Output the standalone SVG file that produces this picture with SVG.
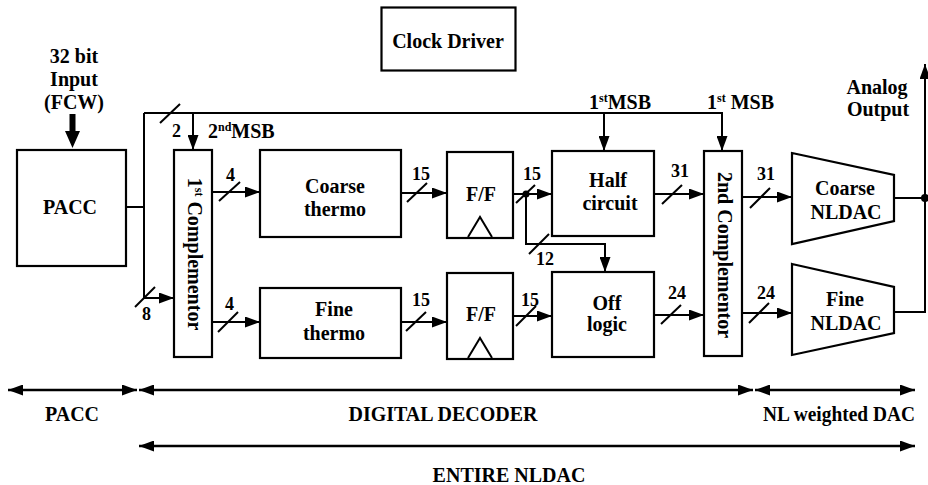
<svg xmlns="http://www.w3.org/2000/svg" width="928" height="485" viewBox="0 0 928 485">
  <style>
    .box { fill: #fff; stroke: #000; stroke-width: 2.2; }
    .ln { fill: none; stroke: #000; stroke-width: 2; }
    .bar { fill: none; stroke: #000; stroke-width: 2.6; }
    .t { font-family: "Liberation Serif", "Times New Roman", serif; font-weight: bold; font-size: 20px; text-anchor: middle; fill: #000; }
    .n { font-family: "Liberation Serif", "Times New Roman", serif; font-weight: bold; font-size: 18px; fill: #000; }
    .sl { stroke: #000; stroke-width: 2; }
  </style>
  <defs>
    <marker id="ah" viewBox="0 0 15 11" refX="15" refY="5.5" markerWidth="15" markerHeight="11" markerUnits="userSpaceOnUse" orient="auto-start-reverse">
      <path d="M0,0 L15,5.5 L0,11 z" fill="#000"/>
    </marker>
  </defs>
  <rect width="928" height="485" fill="#fff"/>

  <!-- input word -->
  <g id="input">
    <text class="t" x="74" y="63">32 bit</text>
    <text class="t" x="74" y="86">Input</text>
    <text class="t" x="74" y="109">(FCW)</text>
    <polygon points="69.5,114 75.5,114 75.5,131 80,131 72.5,148 65,131 69.5,131" fill="#000"/>
  </g>

  <g id="clock-driver">
    <rect class="box" x="381.5" y="7.5" width="134" height="63"/>
    <text class="t" x="448" y="48">Clock Driver</text>
  </g>

  <g id="pacc">
    <rect class="box" x="17" y="150" width="109" height="116"/>
    <text class="t" x="70" y="214">PACC</text>
  </g>

  <g id="complementor-1">
    <rect class="box" x="174" y="150" width="38" height="207"/>
    <text class="t" transform="translate(194,254) rotate(90)" y="6">1<tspan font-size="12" dy="-7">st</tspan><tspan dy="7"> Complementor</tspan></text>
  </g>

  <g id="coarse-thermo">
    <rect class="box" x="260" y="150" width="141" height="87"/>
    <text class="t" x="335" y="193">Coarse</text>
    <text class="t" x="335" y="216">thermo</text>
  </g>

  <g id="fine-thermo">
    <rect class="box" x="260" y="288" width="141" height="70"/>
    <text class="t" x="334" y="316">Fine</text>
    <text class="t" x="334" y="340">thermo</text>
  </g>

  <g id="ff-coarse">
    <rect class="box" x="447" y="152" width="66" height="86"/>
    <text class="t" x="481" y="201">F/F</text>
    <polyline class="ln" points="468,237 480,217 492,237"/>
  </g>

  <g id="ff-fine">
    <rect class="box" x="447" y="273" width="66" height="86"/>
    <text class="t" x="481" y="321">F/F</text>
    <polyline class="ln" points="468,358 480,338 492,358"/>
  </g>

  <g id="half-circuit">
    <rect class="box" x="552" y="151" width="102" height="85"/>
    <text class="t" x="608" y="187">Half</text>
    <text class="t" x="610" y="210">circuit</text>
  </g>

  <g id="off-logic">
    <rect class="box" x="552" y="272" width="102" height="85"/>
    <text class="t" x="607" y="310">Off</text>
    <text class="t" x="607" y="331">logic</text>
  </g>

  <g id="complementor-2">
    <rect class="box" x="704" y="151" width="38" height="205"/>
    <text class="t" transform="translate(724,255) rotate(90)" y="6">2nd Complementor</text>
  </g>

  <g id="coarse-nldac">
    <polygon class="box" points="792,153 894,175 894,221 792,244"/>
    <text class="t" x="845" y="195">Coarse</text>
    <text class="t" x="846" y="219">NLDAC</text>
  </g>

  <g id="fine-nldac">
    <polygon class="box" points="792,264 894,287 894,333 792,355"/>
    <text class="t" x="845" y="306">Fine</text>
    <text class="t" x="846" y="330">NLDAC</text>
  </g>

  <g id="analog-output">
    <text class="t" x="877" y="94">Analog</text>
    <text class="t" x="878" y="116">Output</text>
  </g>

  <g id="connectors">
    <path class="ln" d="M126,207 H144"/>
    <path class="ln" d="M144,113 V298 H174" marker-end="url(#ah)"/>
    <path class="ln" d="M144,113 H722 V151" marker-end="url(#ah)"/>
    <path class="ln" d="M193,113 V150" marker-end="url(#ah)"/>
    <path class="ln" d="M604,113 V151" marker-end="url(#ah)"/>
    <path class="ln" d="M212,192 H260" marker-end="url(#ah)"/>
    <path class="ln" d="M212,322 H260" marker-end="url(#ah)"/>
    <path class="ln" d="M401,193 H447" marker-end="url(#ah)"/>
    <path class="ln" d="M401,322 H447" marker-end="url(#ah)"/>
    <path class="ln" d="M513,194 H552" marker-end="url(#ah)"/>
    <path class="ln" d="M526,194 V244 H605 V272" marker-end="url(#ah)"/>
    <path class="ln" d="M513,316 H552" marker-end="url(#ah)"/>
    <path class="ln" d="M654,194 H704" marker-end="url(#ah)"/>
    <path class="ln" d="M654,315 H704" marker-end="url(#ah)"/>
    <path class="ln" d="M742,197 H792" marker-end="url(#ah)"/>
    <path class="ln" d="M742,313 H792" marker-end="url(#ah)"/>
    <path class="ln" d="M894,198 H925"/>
    <path class="ln" d="M894,312 H925 V64" marker-end="url(#ah)"/>
    <circle cx="526" cy="194" r="3.5" fill="#000"/>
    <circle cx="925" cy="198" r="4" fill="#000"/>

    <!-- bus width ticks -->
    <line class="sl" x1="160" y1="123" x2="180" y2="104"/>
    <line class="sl" x1="135" y1="307" x2="155" y2="287"/>
    <line class="sl" x1="219" y1="201" x2="240" y2="182"/>
    <line class="sl" x1="218" y1="332" x2="238" y2="312"/>
    <line class="sl" x1="407" y1="202" x2="427" y2="183"/>
    <line class="sl" x1="406" y1="331" x2="426" y2="312"/>
    <line class="sl" x1="516" y1="203" x2="535" y2="185"/>
    <line class="sl" x1="529" y1="254" x2="549" y2="234"/>
    <line class="sl" x1="516" y1="326" x2="536" y2="306"/>
    <line class="sl" x1="662" y1="204" x2="682" y2="185"/>
    <line class="sl" x1="661" y1="324" x2="681" y2="305"/>
    <line class="sl" x1="750" y1="208" x2="770" y2="188"/>
    <line class="sl" x1="749" y1="323" x2="769" y2="303"/>

    <!-- bus widths and control labels -->
    <text class="n" x="172" y="137">2</text>
    <text class="n" x="142" y="320">8</text>
    <text class="n" x="226" y="181">4</text>
    <text class="n" x="225" y="310">4</text>
    <text class="n" x="412" y="180">15</text>
    <text class="n" x="412" y="306">15</text>
    <text class="n" x="523" y="180">15</text>
    <text class="n" x="536" y="265">12</text>
    <text class="n" x="521" y="306">15</text>
    <text class="n" x="671" y="177">31</text>
    <text class="n" x="668" y="299">24</text>
    <text class="n" x="757" y="180">31</text>
    <text class="n" x="757" y="299">24</text>
    <text class="t" x="208" y="138" style="text-anchor:start">2<tspan font-size="12" dy="-7">nd</tspan><tspan dy="7">MSB</tspan></text>
    <text class="t" x="589" y="109" style="text-anchor:start">1<tspan font-size="12" dy="-7">st</tspan><tspan dy="7">MSB</tspan></text>
    <text class="t" x="707" y="109" style="text-anchor:start">1<tspan font-size="12" dy="-7">st</tspan><tspan dy="7"> MSB</tspan></text>
  </g>

  <!-- extent ranges -->
  <g id="ranges">
    <path class="bar" d="M8,390 H137" marker-start="url(#ah)" marker-end="url(#ah)"/>
    <path class="bar" d="M139,390 H753" marker-start="url(#ah)" marker-end="url(#ah)"/>
    <path class="bar" d="M755,390 H915" marker-start="url(#ah)" marker-end="url(#ah)"/>
    <path class="bar" d="M139,446 H915" marker-start="url(#ah)" marker-end="url(#ah)"/>
    <text class="t" x="72" y="421">PACC</text>
    <text class="t" x="443" y="421">DIGITAL DECODER</text>
    <text class="t" x="839" y="421" textLength="152" lengthAdjust="spacingAndGlyphs">NL weighted DAC</text>
    <text class="t" x="509" y="482">ENTIRE NLDAC</text>
  </g>
</svg>
